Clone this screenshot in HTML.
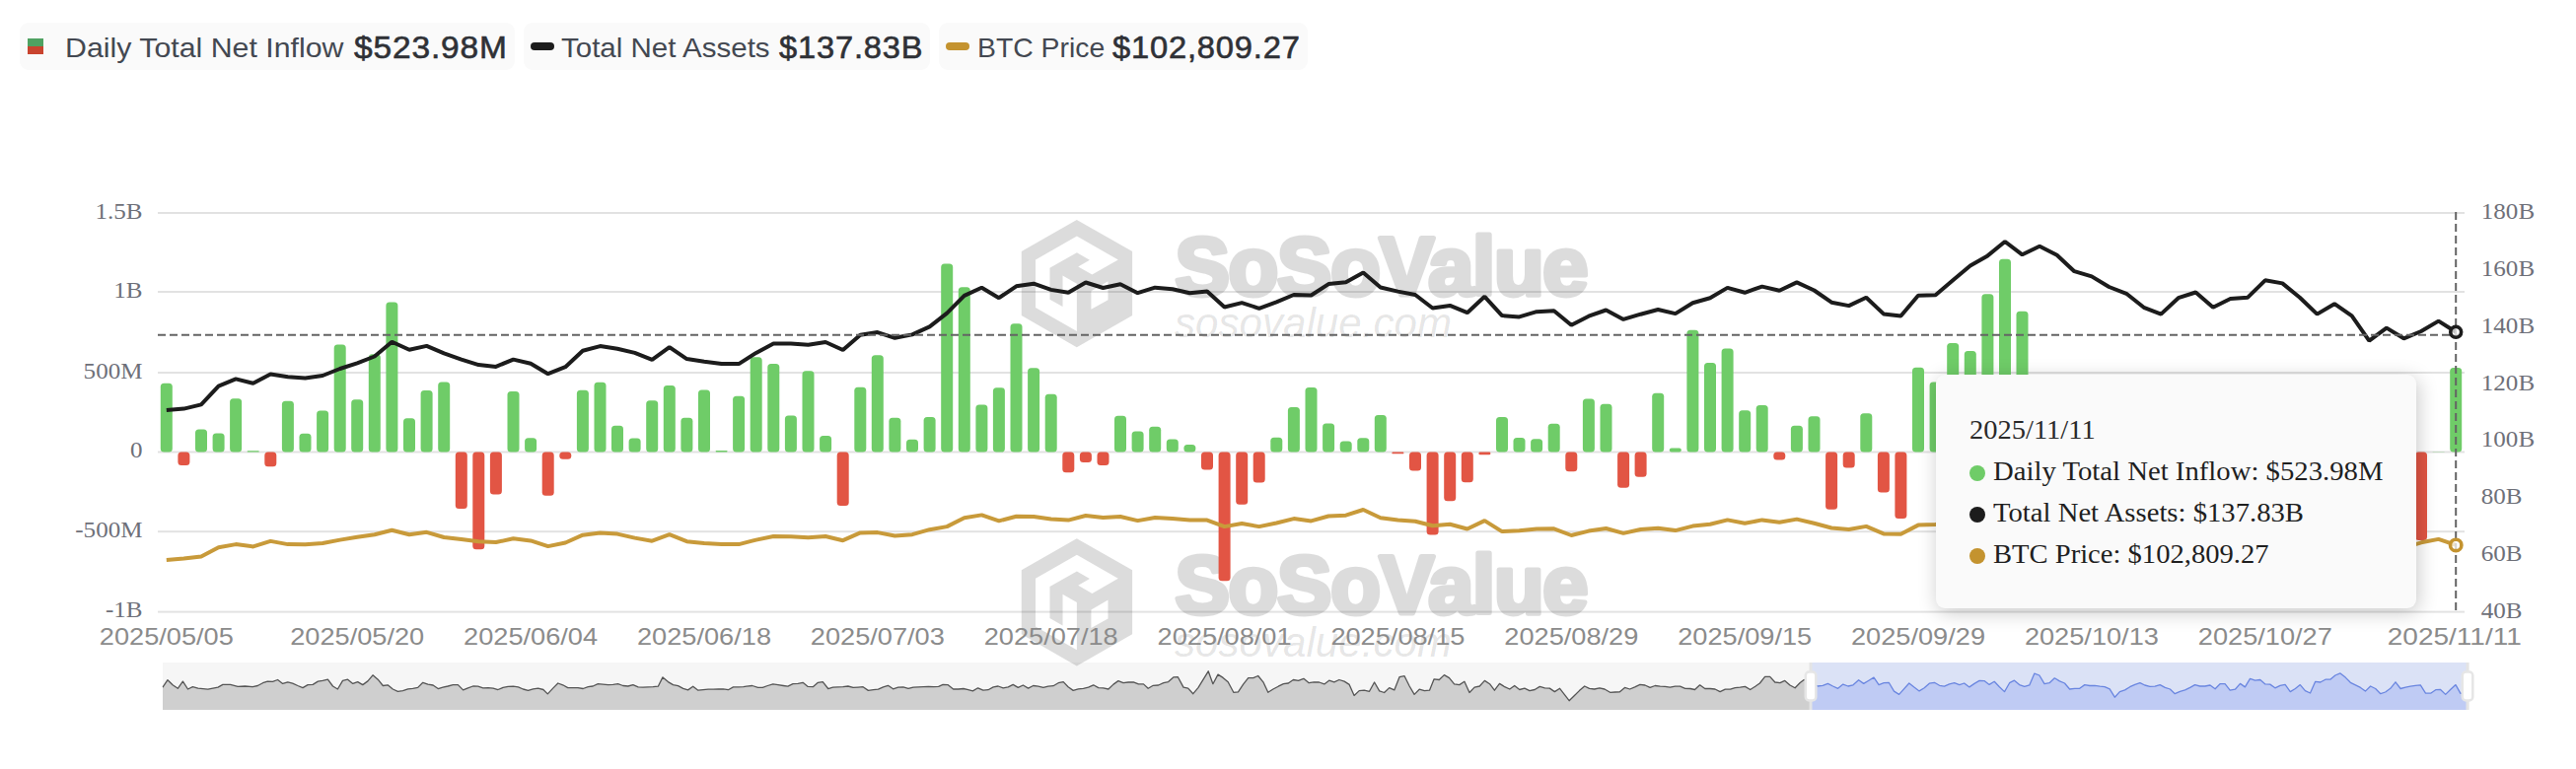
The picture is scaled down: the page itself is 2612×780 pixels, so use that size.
<!DOCTYPE html>
<html><head><meta charset="utf-8"><title>BTC Spot ETF Net Inflow</title>
<style>
html,body{margin:0;padding:0;background:#fff;}
body{width:2612px;height:780px;position:relative;overflow:hidden;font-family:"Liberation Sans",sans-serif;}
.pill{position:absolute;top:23px;height:48px;background:#fafafa;border-radius:9px;}
.pill span{position:absolute;top:0;line-height:48px;white-space:nowrap;transform-origin:0 50%;}
.lbl{font-size:28px;color:#434851;}
.val{font-size:32px;font-weight:normal;color:#2f3136;-webkit-text-stroke:0.6px #2f3136;letter-spacing:0.8px;}
svg{position:absolute;left:0;top:0;}
.tip{position:absolute;left:1963px;top:380px;width:487px;height:236.5px;background:#fafafa;border-radius:9px;
 box-shadow:2px 4px 20px rgba(0,0,0,0.22);font-family:"Liberation Serif",serif;font-size:28px;color:#1f1f1f;}
.tip div{position:absolute;left:34px;height:42px;line-height:42px;white-space:nowrap;}
.tip b{display:inline-block;font-weight:normal;transform-origin:0 50%;}
.tip i{display:inline-block;width:16px;height:16px;border-radius:50%;margin-right:8px;vertical-align:-1px;}
</style></head><body>

<div class="pill" style="left:20px;width:502px;">
<div style="position:absolute;left:8px;top:16px;width:16px;height:8px;background:#4fa262;"></div>
<div style="position:absolute;left:8px;top:24px;width:16px;height:8px;background:#c9442f;"></div>
<span class="lbl" id="l1" style="left:46.3px;top:1.5px;transform:scaleX(1.0825);">Daily Total Net Inflow</span><span class="val" id="v1" style="left:338.6px;top:0.5px;transform:scaleX(1.047);">$523.98M</span></div>
<div class="pill" style="left:530.5px;width:412px;">
<div style="position:absolute;left:7px;top:20px;width:24px;height:8px;border-radius:4px;background:#1c1c1c;"></div>
<span class="lbl" id="l2" style="left:38.7px;top:1.5px;transform:scaleX(1.054);">Total Net Assets</span><span class="val" id="v2" style="left:259.8px;top:0.5px;transform:scaleX(1.02);">$137.83B</span></div>
<div class="pill" style="left:951.5px;width:374px;">
<div style="position:absolute;left:7.5px;top:20px;width:24px;height:8px;border-radius:4px;background:#c4932f;"></div>
<span class="lbl" id="l3" style="left:39.5px;top:1.5px;transform:scaleX(1.0126);">BTC Price</span><span class="val" id="v3" style="left:176.4px;top:0.5px;transform:scaleX(1.021);">$102,809.27</span></div>

<svg width="2612" height="780" viewBox="0 0 2612 780">
<rect x="165" y="672" width="2338.5" height="48" fill="#f6f6f6"/>
<g opacity="0.135"><path fill-rule="evenodd" fill="#000" d="M1091.8 223.0 L1148.1 255.0 L1148.1 320.0 L1091.8 352.2 L1035.8 320.0 L1035.8 255.0 Z M1050.0 263.5 L1091.9 239.5 L1133.8 263.5 L1107.4 278.6 L1093.2 270.4 L1104.9 263.7 L1091.9 256.3 L1064.5 271.8 L1064.5 303.7 L1077.5 311.1 L1077.5 279.4 L1091.9 287.8 L1091.9 335.9 L1050.0 312.1 Z M1106.4 295.3 L1123.5 285.3 L1123.5 304.2 L1106.4 313.8 Z"/><text x="1191.5" y="298.7" font-family="Liberation Sans, sans-serif" font-weight="bold" font-size="83" fill="#000" stroke="#000" stroke-width="5" stroke-linejoin="round" textLength="419" lengthAdjust="spacing">SoSoValue</text></g><text x="1191" y="342.3" font-family="Liberation Sans, sans-serif" font-style="italic" font-size="43" fill="#000" fill-opacity="0.115" textLength="281" lengthAdjust="spacingAndGlyphs">sosovalue.com</text>
<g opacity="0.135"><path fill-rule="evenodd" fill="#000" d="M1091.8 546.3 L1148.1 578.3 L1148.1 643.3 L1091.8 675.5 L1035.8 643.3 L1035.8 578.3 Z M1050.0 586.8 L1091.9 562.8 L1133.8 586.8 L1107.4 601.9 L1093.2 593.7 L1104.9 587.0 L1091.9 579.6 L1064.5 595.1 L1064.5 627.0 L1077.5 634.4 L1077.5 602.7 L1091.9 611.1 L1091.9 659.2 L1050.0 635.4 Z M1106.4 618.6 L1123.5 608.6 L1123.5 627.5 L1106.4 637.1 Z"/><text x="1191.5" y="622.0" font-family="Liberation Sans, sans-serif" font-weight="bold" font-size="83" fill="#000" stroke="#000" stroke-width="5" stroke-linejoin="round" textLength="419" lengthAdjust="spacing">SoSoValue</text></g><text x="1191" y="665.6" font-family="Liberation Sans, sans-serif" font-style="italic" font-size="43" fill="#000" fill-opacity="0.115" textLength="281" lengthAdjust="spacingAndGlyphs">sosovalue.com</text>
<rect x="160" y="215.0" width="2339" height="2" fill="#000" fill-opacity="0.115"/>
<rect x="160" y="295.0" width="2339" height="2" fill="#000" fill-opacity="0.115"/>
<rect x="160" y="377.0" width="2339" height="2" fill="#000" fill-opacity="0.115"/>
<rect x="160" y="457.5" width="2339" height="2" fill="#000" fill-opacity="0.115"/>
<rect x="160" y="538.2" width="2339" height="2" fill="#000" fill-opacity="0.115"/>
<rect x="160" y="619.6" width="2339" height="2" fill="#000" fill-opacity="0.115"/>
<rect x="162.8" y="388.8" width="12.0" height="69.7" rx="3.5" fill="#6fcc68"/>
<rect x="180.4" y="458.5" width="12.0" height="13.5" rx="3.5" fill="#e25544"/>
<rect x="198.0" y="435.4" width="12.0" height="23.1" rx="3.5" fill="#6fcc68"/>
<rect x="215.6" y="439.5" width="12.0" height="19.0" rx="3.5" fill="#6fcc68"/>
<rect x="233.1" y="404.2" width="12.0" height="54.3" rx="3.5" fill="#6fcc68"/>
<rect x="250.7" y="457.3" width="12.0" height="1.2" rx="0.6" fill="#6fcc68"/>
<rect x="268.3" y="458.5" width="12.0" height="14.8" rx="3.5" fill="#e25544"/>
<rect x="285.9" y="406.8" width="12.0" height="51.7" rx="3.5" fill="#6fcc68"/>
<rect x="303.5" y="439.8" width="12.0" height="18.7" rx="3.5" fill="#6fcc68"/>
<rect x="321.1" y="416.4" width="12.0" height="42.1" rx="3.5" fill="#6fcc68"/>
<rect x="338.7" y="349.6" width="12.0" height="108.9" rx="3.5" fill="#6fcc68"/>
<rect x="356.2" y="405.2" width="12.0" height="53.3" rx="3.5" fill="#6fcc68"/>
<rect x="373.8" y="359.2" width="12.0" height="99.3" rx="3.5" fill="#6fcc68"/>
<rect x="391.4" y="306.4" width="12.0" height="152.1" rx="3.5" fill="#6fcc68"/>
<rect x="409.0" y="424.2" width="12.0" height="34.3" rx="3.5" fill="#6fcc68"/>
<rect x="426.6" y="396.1" width="12.0" height="62.4" rx="3.5" fill="#6fcc68"/>
<rect x="444.2" y="387.5" width="12.0" height="71.0" rx="3.5" fill="#6fcc68"/>
<rect x="461.8" y="458.5" width="12.0" height="57.5" rx="3.5" fill="#e25544"/>
<rect x="479.3" y="458.5" width="12.0" height="98.8" rx="3.5" fill="#e25544"/>
<rect x="496.9" y="458.5" width="12.0" height="42.9" rx="3.5" fill="#e25544"/>
<rect x="514.5" y="397.1" width="12.0" height="61.4" rx="3.5" fill="#6fcc68"/>
<rect x="532.1" y="444.2" width="12.0" height="14.3" rx="3.5" fill="#6fcc68"/>
<rect x="549.7" y="458.5" width="12.0" height="44.2" rx="3.5" fill="#e25544"/>
<rect x="567.3" y="458.5" width="12.0" height="7.3" rx="3.5" fill="#e25544"/>
<rect x="584.9" y="395.8" width="12.0" height="62.7" rx="3.5" fill="#6fcc68"/>
<rect x="602.5" y="387.8" width="12.0" height="70.7" rx="3.5" fill="#6fcc68"/>
<rect x="620.0" y="431.7" width="12.0" height="26.8" rx="3.5" fill="#6fcc68"/>
<rect x="637.6" y="444.5" width="12.0" height="14.0" rx="3.5" fill="#6fcc68"/>
<rect x="655.2" y="406.2" width="12.0" height="52.3" rx="3.5" fill="#6fcc68"/>
<rect x="672.8" y="390.9" width="12.0" height="67.6" rx="3.5" fill="#6fcc68"/>
<rect x="690.4" y="423.7" width="12.0" height="34.8" rx="3.5" fill="#6fcc68"/>
<rect x="708.0" y="395.6" width="12.0" height="62.9" rx="3.5" fill="#6fcc68"/>
<rect x="725.6" y="457.0" width="12.0" height="1.5" rx="0.8" fill="#6fcc68"/>
<rect x="743.1" y="401.8" width="12.0" height="56.7" rx="3.5" fill="#6fcc68"/>
<rect x="760.7" y="362.3" width="12.0" height="96.2" rx="3.5" fill="#6fcc68"/>
<rect x="778.3" y="369.1" width="12.0" height="89.4" rx="3.5" fill="#6fcc68"/>
<rect x="795.9" y="421.6" width="12.0" height="36.9" rx="3.5" fill="#6fcc68"/>
<rect x="813.5" y="376.3" width="12.0" height="82.2" rx="3.5" fill="#6fcc68"/>
<rect x="831.1" y="441.9" width="12.0" height="16.6" rx="3.5" fill="#6fcc68"/>
<rect x="848.7" y="458.5" width="12.0" height="54.6" rx="3.5" fill="#e25544"/>
<rect x="866.3" y="392.7" width="12.0" height="65.8" rx="3.5" fill="#6fcc68"/>
<rect x="883.8" y="360.2" width="12.0" height="98.3" rx="3.5" fill="#6fcc68"/>
<rect x="901.4" y="423.7" width="12.0" height="34.8" rx="3.5" fill="#6fcc68"/>
<rect x="919.0" y="445.8" width="12.0" height="12.7" rx="3.5" fill="#6fcc68"/>
<rect x="936.6" y="423.1" width="12.0" height="35.4" rx="3.5" fill="#6fcc68"/>
<rect x="954.2" y="267.5" width="12.0" height="191.0" rx="3.5" fill="#6fcc68"/>
<rect x="971.8" y="291.3" width="12.0" height="167.2" rx="3.5" fill="#6fcc68"/>
<rect x="989.4" y="410.4" width="12.0" height="48.1" rx="3.5" fill="#6fcc68"/>
<rect x="1006.9" y="393.2" width="12.0" height="65.3" rx="3.5" fill="#6fcc68"/>
<rect x="1024.5" y="328.2" width="12.0" height="130.3" rx="3.5" fill="#6fcc68"/>
<rect x="1042.1" y="373.2" width="12.0" height="85.3" rx="3.5" fill="#6fcc68"/>
<rect x="1059.7" y="399.7" width="12.0" height="58.8" rx="3.5" fill="#6fcc68"/>
<rect x="1077.3" y="458.5" width="12.0" height="20.8" rx="3.5" fill="#e25544"/>
<rect x="1094.9" y="458.5" width="12.0" height="10.6" rx="3.5" fill="#e25544"/>
<rect x="1112.5" y="458.5" width="12.0" height="13.5" rx="3.5" fill="#e25544"/>
<rect x="1130.0" y="421.8" width="12.0" height="36.7" rx="3.5" fill="#6fcc68"/>
<rect x="1147.6" y="437.4" width="12.0" height="21.1" rx="3.5" fill="#6fcc68"/>
<rect x="1165.2" y="432.8" width="12.0" height="25.7" rx="3.5" fill="#6fcc68"/>
<rect x="1182.8" y="445.5" width="12.0" height="13.0" rx="3.5" fill="#6fcc68"/>
<rect x="1200.4" y="451.0" width="12.0" height="7.5" rx="3.5" fill="#6fcc68"/>
<rect x="1218.0" y="458.5" width="12.0" height="17.9" rx="3.5" fill="#e25544"/>
<rect x="1235.6" y="458.5" width="12.0" height="130.8" rx="3.5" fill="#e25544"/>
<rect x="1253.2" y="458.5" width="12.0" height="53.3" rx="3.5" fill="#e25544"/>
<rect x="1270.7" y="458.5" width="12.0" height="30.9" rx="3.5" fill="#e25544"/>
<rect x="1288.3" y="443.7" width="12.0" height="14.8" rx="3.5" fill="#6fcc68"/>
<rect x="1305.9" y="413.0" width="12.0" height="45.5" rx="3.5" fill="#6fcc68"/>
<rect x="1323.5" y="393.0" width="12.0" height="65.5" rx="3.5" fill="#6fcc68"/>
<rect x="1341.1" y="429.6" width="12.0" height="28.9" rx="3.5" fill="#6fcc68"/>
<rect x="1358.7" y="447.6" width="12.0" height="10.9" rx="3.5" fill="#6fcc68"/>
<rect x="1376.3" y="444.2" width="12.0" height="14.3" rx="3.5" fill="#6fcc68"/>
<rect x="1393.8" y="421.1" width="12.0" height="37.4" rx="3.5" fill="#6fcc68"/>
<rect x="1411.4" y="458.5" width="12.0" height="1.8" rx="0.9" fill="#e25544"/>
<rect x="1429.0" y="458.5" width="12.0" height="19.0" rx="3.5" fill="#e25544"/>
<rect x="1446.6" y="458.5" width="12.0" height="84.0" rx="3.5" fill="#e25544"/>
<rect x="1464.2" y="458.5" width="12.0" height="49.7" rx="3.5" fill="#e25544"/>
<rect x="1481.8" y="458.5" width="12.0" height="30.7" rx="3.5" fill="#e25544"/>
<rect x="1499.4" y="458.5" width="12.0" height="2.8" rx="1.4" fill="#e25544"/>
<rect x="1517.0" y="422.9" width="12.0" height="35.6" rx="3.5" fill="#6fcc68"/>
<rect x="1534.5" y="443.9" width="12.0" height="14.6" rx="3.5" fill="#6fcc68"/>
<rect x="1552.1" y="445.2" width="12.0" height="13.3" rx="3.5" fill="#6fcc68"/>
<rect x="1569.7" y="429.7" width="12.0" height="28.8" rx="3.5" fill="#6fcc68"/>
<rect x="1587.3" y="458.5" width="12.0" height="19.8" rx="3.5" fill="#e25544"/>
<rect x="1604.9" y="404.5" width="12.0" height="54.0" rx="3.5" fill="#6fcc68"/>
<rect x="1622.5" y="409.7" width="12.0" height="48.8" rx="3.5" fill="#6fcc68"/>
<rect x="1640.1" y="458.5" width="12.0" height="36.2" rx="3.5" fill="#e25544"/>
<rect x="1657.6" y="458.5" width="12.0" height="25.3" rx="3.5" fill="#e25544"/>
<rect x="1675.2" y="398.8" width="12.0" height="59.7" rx="3.5" fill="#6fcc68"/>
<rect x="1692.8" y="454.4" width="12.0" height="4.1" rx="2.0" fill="#6fcc68"/>
<rect x="1710.4" y="334.8" width="12.0" height="123.7" rx="3.5" fill="#6fcc68"/>
<rect x="1728.0" y="367.9" width="12.0" height="90.6" rx="3.5" fill="#6fcc68"/>
<rect x="1745.6" y="353.6" width="12.0" height="104.9" rx="3.5" fill="#6fcc68"/>
<rect x="1763.2" y="416.2" width="12.0" height="42.3" rx="3.5" fill="#6fcc68"/>
<rect x="1780.7" y="411.0" width="12.0" height="47.5" rx="3.5" fill="#6fcc68"/>
<rect x="1798.3" y="458.5" width="12.0" height="7.9" rx="3.5" fill="#e25544"/>
<rect x="1815.9" y="431.8" width="12.0" height="26.7" rx="3.5" fill="#6fcc68"/>
<rect x="1833.5" y="422.3" width="12.0" height="36.2" rx="3.5" fill="#6fcc68"/>
<rect x="1851.1" y="458.5" width="12.0" height="58.3" rx="3.5" fill="#e25544"/>
<rect x="1868.7" y="458.5" width="12.0" height="15.9" rx="3.5" fill="#e25544"/>
<rect x="1886.3" y="419.3" width="12.0" height="39.2" rx="3.5" fill="#6fcc68"/>
<rect x="1903.9" y="458.5" width="12.0" height="40.9" rx="3.5" fill="#e25544"/>
<rect x="1921.4" y="458.5" width="12.0" height="67.4" rx="3.5" fill="#e25544"/>
<rect x="1939.0" y="372.8" width="12.0" height="85.7" rx="3.5" fill="#6fcc68"/>
<rect x="1956.6" y="387.6" width="12.0" height="70.9" rx="3.5" fill="#6fcc68"/>
<rect x="1974.2" y="348.1" width="12.0" height="110.4" rx="3.5" fill="#6fcc68"/>
<rect x="1991.8" y="355.9" width="12.0" height="102.6" rx="3.5" fill="#6fcc68"/>
<rect x="2009.4" y="298.2" width="12.0" height="160.3" rx="3.5" fill="#6fcc68"/>
<rect x="2027.0" y="262.7" width="12.0" height="195.8" rx="3.5" fill="#6fcc68"/>
<rect x="2044.5" y="315.8" width="12.0" height="142.7" rx="3.5" fill="#6fcc68"/>
<rect x="2062.1" y="387.1" width="12.0" height="71.4" rx="3.5" fill="#6fcc68"/>
<rect x="2079.7" y="426.5" width="12.0" height="32.0" rx="3.5" fill="#6fcc68"/>
<rect x="2097.3" y="458.5" width="12.0" height="0.8" rx="0.4" fill="#e25544"/>
<rect x="2114.9" y="458.5" width="12.0" height="53.0" rx="3.5" fill="#e25544"/>
<rect x="2132.5" y="441.8" width="12.0" height="16.7" rx="3.5" fill="#6fcc68"/>
<rect x="2150.1" y="458.5" width="12.0" height="16.8" rx="3.5" fill="#e25544"/>
<rect x="2167.7" y="458.5" width="12.0" height="86.0" rx="3.5" fill="#e25544"/>
<rect x="2185.2" y="458.5" width="12.0" height="59.4" rx="3.5" fill="#e25544"/>
<rect x="2202.8" y="458.5" width="12.0" height="6.5" rx="3.2" fill="#e25544"/>
<rect x="2220.4" y="381.2" width="12.0" height="77.3" rx="3.5" fill="#6fcc68"/>
<rect x="2238.0" y="458.5" width="12.0" height="16.4" rx="3.5" fill="#e25544"/>
<rect x="2255.6" y="455.3" width="12.0" height="3.2" rx="1.6" fill="#6fcc68"/>
<rect x="2273.2" y="443.9" width="12.0" height="14.6" rx="3.5" fill="#6fcc68"/>
<rect x="2290.8" y="434.4" width="12.0" height="24.1" rx="3.5" fill="#6fcc68"/>
<rect x="2308.3" y="425.8" width="12.0" height="32.7" rx="3.5" fill="#6fcc68"/>
<rect x="2325.9" y="458.5" width="12.0" height="76.3" rx="3.5" fill="#e25544"/>
<rect x="2343.5" y="458.5" width="12.0" height="79.0" rx="3.5" fill="#e25544"/>
<rect x="2361.1" y="458.5" width="12.0" height="31.0" rx="3.5" fill="#e25544"/>
<rect x="2378.7" y="458.5" width="12.0" height="30.3" rx="3.5" fill="#e25544"/>
<rect x="2396.3" y="458.5" width="12.0" height="91.7" rx="3.5" fill="#e25544"/>
<rect x="2413.9" y="458.5" width="12.0" height="22.2" rx="3.5" fill="#e25544"/>
<rect x="2431.4" y="419.6" width="12.0" height="38.9" rx="3.5" fill="#6fcc68"/>
<rect x="2449.0" y="458.5" width="12.0" height="89.6" rx="3.5" fill="#e25544"/>
<rect x="2466.6" y="458.2" width="12.0" height="0.3" rx="0.1" fill="#6fcc68"/>
<rect x="2484.2" y="373.0" width="12.0" height="85.5" rx="3.5" fill="#6fcc68"/>
<polyline points="168.8,416.1 186.4,414.6 204.0,410.4 221.6,391.7 239.1,384.4 256.7,388.8 274.3,379.5 291.9,382.3 309.5,383.6 327.1,381.0 344.7,374.0 362.2,368.3 379.8,361.5 397.4,346.7 415.0,354.8 432.6,350.9 450.2,358.4 467.8,364.6 485.3,370.1 502.9,371.9 520.5,364.6 538.1,368.8 555.7,379.2 573.3,372.2 590.9,355.8 608.5,351.1 626.0,353.7 643.6,357.9 661.2,364.9 678.8,352.2 696.4,364.1 714.0,366.7 731.6,369.1 749.1,369.1 766.7,357.9 784.3,348.5 801.9,348.5 819.5,349.8 837.1,347.0 854.7,355.0 872.3,339.7 889.8,337.1 907.4,342.8 925.0,339.4 942.6,331.4 960.2,317.6 977.8,299.9 995.4,291.8 1012.9,302.2 1030.5,290.3 1048.1,287.7 1065.7,293.9 1083.3,296.8 1100.9,286.5 1118.5,292.0 1136.0,288.3 1153.6,297.2 1171.2,291.7 1188.8,293.3 1206.4,297.2 1224.0,295.4 1241.6,311.5 1259.2,307.1 1276.7,312.8 1294.3,306.3 1311.9,299.0 1329.5,299.5 1347.1,288.1 1364.7,286.3 1382.3,276.6 1399.8,291.5 1417.4,295.6 1435.0,299.0 1452.6,312.5 1470.2,309.9 1487.8,317.2 1505.4,300.8 1523.0,320.1 1540.5,321.4 1558.1,316.2 1575.7,315.2 1593.3,329.8 1610.9,320.7 1628.5,314.5 1646.1,323.9 1663.6,318.7 1681.2,314.0 1698.8,318.1 1716.4,307.2 1734.0,302.3 1751.6,291.9 1769.2,296.8 1786.7,290.6 1804.3,294.7 1821.9,286.4 1839.5,294.5 1857.1,306.7 1874.7,310.1 1892.3,301.8 1909.9,318.4 1927.4,320.5 1945.0,299.7 1962.6,299.2 1980.2,284.3 1997.8,269.5 2015.4,259.4 2033.0,245.0 2050.5,258.3 2068.1,249.7 2085.7,258.8 2103.3,275.2 2120.9,280.4 2138.5,291.0 2156.1,297.8 2173.7,311.8 2191.2,318.6 2208.8,302.2 2226.4,296.5 2244.0,311.8 2261.6,303.0 2279.2,301.7 2296.8,284.3 2314.3,287.4 2331.9,301.7 2349.5,318.6 2367.1,308.2 2384.7,320.4 2402.3,345.6 2419.9,332.6 2437.4,343.3 2455.0,336.0 2472.6,325.6 2490.2,336.8" fill="none" stroke="#1c1c1c" stroke-width="4.0" stroke-linejoin="bevel" stroke-linecap="butt"/>
<polyline points="168.8,567.9 186.4,566.6 204.0,564.5 221.6,555.2 239.1,552.1 256.7,554.4 274.3,548.9 291.9,552.1 309.5,552.3 327.1,551.0 344.7,547.6 362.2,544.8 379.8,542.2 397.4,537.8 415.0,542.2 432.6,539.8 450.2,545.0 467.8,547.1 485.3,549.2 502.9,550.0 520.5,546.3 538.1,548.4 555.7,554.1 573.3,550.5 590.9,542.7 608.5,540.4 626.0,541.6 643.6,545.6 661.2,548.7 678.8,542.2 696.4,549.2 714.0,551.0 731.6,552.1 749.1,552.1 766.7,547.6 784.3,544.0 801.9,544.3 819.5,545.3 837.1,544.0 854.7,548.2 872.3,540.4 889.8,540.1 907.4,543.5 925.0,542.2 942.6,537.2 960.2,534.1 977.8,525.3 995.4,522.4 1012.9,528.4 1030.5,523.7 1048.1,524.0 1065.7,526.6 1083.3,527.6 1100.9,523.0 1118.5,525.0 1136.0,524.0 1153.6,528.1 1171.2,525.0 1188.8,526.1 1206.4,527.4 1224.0,527.6 1241.6,534.1 1259.2,531.0 1276.7,534.1 1294.3,530.5 1311.9,526.1 1329.5,528.4 1347.1,523.5 1364.7,522.7 1382.3,517.0 1399.8,525.3 1417.4,527.4 1435.0,528.7 1452.6,533.3 1470.2,531.8 1487.8,536.5 1505.4,528.1 1523.0,539.1 1540.5,538.3 1558.1,536.5 1575.7,536.3 1593.3,543.0 1610.9,538.6 1628.5,536.0 1646.1,540.9 1663.6,537.0 1681.2,535.7 1698.8,538.1 1716.4,533.6 1734.0,531.8 1751.6,527.4 1769.2,530.8 1786.7,527.4 1804.3,529.7 1821.9,526.6 1839.5,530.8 1857.1,535.5 1874.7,537.0 1892.3,533.9 1909.9,541.4 1927.4,541.7 1945.0,532.6 1962.6,532.1 1980.2,525.0 1997.8,521.6 2015.4,518.6 2033.0,514.1 2050.5,520.0 2068.1,516.6 2085.7,519.5 2103.3,534.9 2120.9,531.0 2138.5,534.7 2156.1,538.8 2173.7,543.4 2191.2,546.5 2208.8,539.1 2226.4,542.8 2244.0,544.2 2261.6,540.0 2279.2,538.4 2296.8,532.9 2314.3,535.0 2331.9,540.2 2349.5,543.2 2367.1,540.9 2384.7,546.4 2402.3,555.2 2419.9,551.0 2437.4,555.6 2455.0,550.3 2472.6,546.9 2490.2,552.9" fill="none" stroke="#c89a3a" stroke-width="4.0" stroke-linejoin="bevel" stroke-linecap="butt"/>
<line x1="160" y1="339.7" x2="2499" y2="339.7" stroke="#646464" stroke-width="2" stroke-dasharray="8 4"/>
<line x1="2490.2" y1="215" x2="2490.2" y2="621" stroke="#646464" stroke-width="2" stroke-dasharray="8 4"/>
<circle cx="2490.2" cy="336.8" r="5.45" fill="#fff" fill-opacity="0.72" stroke="#1c1c1c" stroke-width="3.6"/>
<circle cx="2490.2" cy="552.9" r="5.7" fill="#fff" fill-opacity="0.72" stroke="#c4932f" stroke-width="3.6"/>
<text transform="translate(144.5,221.8) scale(1.045,1)" text-anchor="end" font-family="Liberation Serif, serif" font-size="24" fill="#6e7079">1.5B</text>
<text transform="translate(144.5,301.8) scale(1.045,1)" text-anchor="end" font-family="Liberation Serif, serif" font-size="24" fill="#6e7079">1B</text>
<text transform="translate(144.5,383.8) scale(1.045,1)" text-anchor="end" font-family="Liberation Serif, serif" font-size="24" fill="#6e7079">500M</text>
<text transform="translate(144.5,464.3) scale(1.045,1)" text-anchor="end" font-family="Liberation Serif, serif" font-size="24" fill="#6e7079">0</text>
<text transform="translate(144.5,545.0) scale(1.045,1)" text-anchor="end" font-family="Liberation Serif, serif" font-size="24" fill="#6e7079">-500M</text>
<text transform="translate(144.5,626.4) scale(1.045,1)" text-anchor="end" font-family="Liberation Serif, serif" font-size="24" fill="#6e7079">-1B</text>
<text transform="translate(2515.8,222.3) scale(1.045,1)" font-family="Liberation Serif, serif" font-size="24" fill="#6e7079">180B</text>
<text transform="translate(2515.8,280.0) scale(1.045,1)" font-family="Liberation Serif, serif" font-size="24" fill="#6e7079">160B</text>
<text transform="translate(2515.8,337.8) scale(1.045,1)" font-family="Liberation Serif, serif" font-size="24" fill="#6e7079">140B</text>
<text transform="translate(2515.8,395.5) scale(1.045,1)" font-family="Liberation Serif, serif" font-size="24" fill="#6e7079">120B</text>
<text transform="translate(2515.8,453.3) scale(1.045,1)" font-family="Liberation Serif, serif" font-size="24" fill="#6e7079">100B</text>
<text transform="translate(2515.8,511.0) scale(1.045,1)" font-family="Liberation Serif, serif" font-size="24" fill="#6e7079">80B</text>
<text transform="translate(2515.8,568.7) scale(1.045,1)" font-family="Liberation Serif, serif" font-size="24" fill="#6e7079">60B</text>
<text transform="translate(2515.8,626.5) scale(1.045,1)" font-family="Liberation Serif, serif" font-size="24" fill="#6e7079">40B</text>
<text x="100.8" y="654.3" font-family="Liberation Sans, sans-serif" font-size="24" fill="#8b8b8b" textLength="136" lengthAdjust="spacingAndGlyphs">2025/05/05</text>
<text x="294.2" y="654.3" font-family="Liberation Sans, sans-serif" font-size="24" fill="#8b8b8b" textLength="136" lengthAdjust="spacingAndGlyphs">2025/05/20</text>
<text x="470.1" y="654.3" font-family="Liberation Sans, sans-serif" font-size="24" fill="#8b8b8b" textLength="136" lengthAdjust="spacingAndGlyphs">2025/06/04</text>
<text x="646.0" y="654.3" font-family="Liberation Sans, sans-serif" font-size="24" fill="#8b8b8b" textLength="136" lengthAdjust="spacingAndGlyphs">2025/06/18</text>
<text x="821.8" y="654.3" font-family="Liberation Sans, sans-serif" font-size="24" fill="#8b8b8b" textLength="136" lengthAdjust="spacingAndGlyphs">2025/07/03</text>
<text x="997.7" y="654.3" font-family="Liberation Sans, sans-serif" font-size="24" fill="#8b8b8b" textLength="136" lengthAdjust="spacingAndGlyphs">2025/07/18</text>
<text x="1173.6" y="654.3" font-family="Liberation Sans, sans-serif" font-size="24" fill="#8b8b8b" textLength="136" lengthAdjust="spacingAndGlyphs">2025/08/01</text>
<text x="1349.4" y="654.3" font-family="Liberation Sans, sans-serif" font-size="24" fill="#8b8b8b" textLength="136" lengthAdjust="spacingAndGlyphs">2025/08/15</text>
<text x="1525.3" y="654.3" font-family="Liberation Sans, sans-serif" font-size="24" fill="#8b8b8b" textLength="136" lengthAdjust="spacingAndGlyphs">2025/08/29</text>
<text x="1701.2" y="654.3" font-family="Liberation Sans, sans-serif" font-size="24" fill="#8b8b8b" textLength="136" lengthAdjust="spacingAndGlyphs">2025/09/15</text>
<text x="1877.0" y="654.3" font-family="Liberation Sans, sans-serif" font-size="24" fill="#8b8b8b" textLength="136" lengthAdjust="spacingAndGlyphs">2025/09/29</text>
<text x="2052.9" y="654.3" font-family="Liberation Sans, sans-serif" font-size="24" fill="#8b8b8b" textLength="136" lengthAdjust="spacingAndGlyphs">2025/10/13</text>
<text x="2228.8" y="654.3" font-family="Liberation Sans, sans-serif" font-size="24" fill="#8b8b8b" textLength="136" lengthAdjust="spacingAndGlyphs">2025/10/27</text>
<text x="2420.8" y="654.3" font-family="Liberation Sans, sans-serif" font-size="24" fill="#8b8b8b" textLength="136" lengthAdjust="spacingAndGlyphs">2025/11/11</text>
<path d="M165.0 720 L165.0 696.9 L165.1 696.9 L170.0 689.7 L175.1 694.8 L180.3 698.3 L185.4 691.1 L190.5 699.0 L195.4 696.7 L200.8 698.1 L210.8 699.2 L221.0 697.1 L225.9 694.4 L233.6 694.4 L241.1 696.4 L248.5 696.0 L256.2 696.7 L261.3 695.5 L266.5 692.7 L271.3 691.1 L276.5 691.3 L281.6 689.5 L286.7 693.4 L291.8 691.8 L296.7 693.2 L301.9 695.5 L307.0 697.6 L312.1 694.6 L317.2 694.4 L322.4 691.1 L327.2 690.4 L332.4 689.2 L337.5 696.0 L342.4 699.0 L347.5 690.4 L352.6 689.2 L357.8 693.4 L362.7 691.6 L367.8 694.6 L372.9 690.9 L378.0 684.8 L383.2 689.2 L388.3 695.5 L393.2 694.8 L398.3 699.0 L403.4 701.3 L408.5 700.6 L413.7 698.8 L418.6 698.3 L423.7 697.4 L428.8 692.3 L433.9 694.1 L439.1 695.0 L444.2 698.5 L449.1 697.1 L454.2 696.0 L459.3 694.6 L464.4 694.6 L469.6 699.9 L474.5 697.8 L479.6 696.0 L484.7 696.2 L489.8 697.8 L495.0 697.6 L500.1 698.1 L505.0 699.5 L510.1 697.4 L515.2 696.4 L520.4 696.2 L525.5 696.9 L530.4 699.0 L535.5 700.4 L540.6 698.8 L545.7 698.1 L550.9 699.5 L555.3 703.9 L560.7 698.1 L565.8 693.0 L570.7 694.8 L575.8 697.6 L580.9 697.6 L586.0 697.6 L591.2 698.5 L596.3 696.7 L601.2 696.0 L606.3 693.7 L611.4 694.1 L616.6 694.6 L621.7 694.4 L626.6 693.7 L631.7 695.5 L636.8 696.0 L641.9 694.6 L647.1 696.9 L652.0 697.1 L657.1 696.9 L662.2 696.7 L667.3 696.2 L672.0 686.9 L677.4 691.6 L682.5 694.6 L687.6 695.7 L692.7 698.3 L697.6 699.9 L702.7 696.2 L707.9 700.2 L713.0 699.7 L718.1 699.2 L723.2 699.2 L728.4 699.0 L733.3 698.8 L738.4 699.7 L743.5 696.9 L748.6 696.9 L753.8 696.7 L757.0 696.2 L762.8 695.5 L768.6 697.4 L773.3 697.4 L778.4 695.5 L783.8 693.9 L788.9 694.6 L794.3 695.5 L798.9 696.2 L804.0 693.7 L809.2 693.4 L814.1 692.3 L819.2 696.4 L824.3 696.7 L829.4 692.3 L834.3 691.6 L839.7 698.5 L844.6 697.1 L849.7 696.9 L854.8 696.7 L859.9 696.0 L865.1 697.4 L870.0 697.1 L875.1 696.7 L880.4 700.4 L885.6 699.7 L890.5 699.2 L895.6 696.9 L900.5 695.3 L905.6 698.8 L910.7 697.1 L915.9 696.9 L921.0 698.3 L926.1 697.1 L936.3 696.7 L941.5 696.4 L946.6 696.7 L951.7 696.4 L956.1 694.4 L961.0 694.6 L966.6 699.0 L971.8 699.0 L976.9 698.5 L981.8 699.7 L986.4 700.9 L991.6 697.8 L996.9 700.2 L1002.0 699.7 L1007.2 696.9 L1012.1 696.0 L1017.2 697.8 L1022.3 696.9 L1027.2 694.4 L1032.3 697.4 L1037.4 695.0 L1042.6 698.1 L1047.7 695.5 L1052.8 696.2 L1057.9 697.4 L1062.8 696.2 L1068.0 695.7 L1073.1 692.7 L1078.2 691.6 L1083.1 696.7 L1088.2 700.4 L1093.3 698.8 L1098.5 698.3 L1103.6 697.1 L1108.7 694.8 L1113.8 697.6 L1118.7 697.8 L1123.9 699.0 L1129.0 694.1 L1133.9 690.6 L1139.0 692.7 L1144.1 692.0 L1149.3 691.8 L1154.4 693.9 L1159.5 693.9 L1164.2 698.3 L1169.3 695.3 L1174.6 695.0 L1179.8 692.7 L1184.7 691.6 L1189.8 686.9 L1194.4 686.7 L1200.0 697.1 L1204.7 698.1 L1209.8 703.7 L1214.9 697.6 L1225.2 680.8 L1229.9 693.7 L1235.0 684.1 L1240.1 687.4 L1245.2 691.8 L1250.8 702.3 L1255.5 701.8 L1260.6 694.1 L1265.7 687.6 L1270.8 687.6 L1275.7 685.5 L1280.9 691.8 L1285.8 702.3 L1290.9 699.0 L1296.2 696.2 L1301.4 693.7 L1306.3 693.0 L1311.4 689.5 L1316.5 690.4 L1321.9 688.3 L1327.2 692.7 L1332.3 691.8 L1337.5 692.0 L1342.8 693.9 L1347.7 690.2 L1352.8 691.8 L1357.9 689.5 L1363.1 691.1 L1368.2 694.4 L1373.1 705.5 L1378.2 700.6 L1383.3 700.2 L1388.5 701.3 L1393.6 692.0 L1398.7 700.9 L1403.6 702.5 L1408.7 697.6 L1413.8 699.9 L1419.0 686.7 L1424.1 685.7 L1429.2 696.0 L1434.1 704.4 L1439.2 699.2 L1444.4 700.6 L1449.5 700.2 L1454.1 688.8 L1459.3 689.5 L1464.4 684.6 L1469.5 687.6 L1474.6 693.9 L1479.8 694.6 L1484.9 691.3 L1490.0 702.5 L1495.1 697.1 L1500.3 696.0 L1505.4 690.4 L1510.5 693.7 L1515.4 700.2 L1520.5 693.4 L1525.7 696.7 L1530.8 699.0 L1535.7 695.5 L1540.8 699.5 L1545.9 698.1 L1551.0 700.6 L1556.2 699.5 L1561.3 696.4 L1566.4 697.8 L1571.3 698.1 L1576.4 701.6 L1581.6 698.3 L1591.1 710.7 L1596.2 705.8 L1601.4 700.6 L1606.7 696.0 L1611.6 698.3 L1616.7 699.0 L1621.9 697.8 L1627.0 699.0 L1632.6 702.3 L1637.7 702.0 L1642.4 701.8 L1647.5 697.4 L1652.6 699.0 L1657.7 696.9 L1662.9 694.4 L1668.0 695.0 L1673.1 697.4 L1678.2 695.5 L1683.3 696.2 L1688.2 696.4 L1693.4 697.1 L1698.5 696.2 L1703.6 696.2 L1708.7 698.3 L1713.9 698.5 L1718.5 699.5 L1723.6 694.8 L1728.8 698.5 L1733.9 698.5 L1739.0 699.0 L1744.1 701.6 L1749.3 699.2 L1754.4 699.2 L1759.3 697.6 L1764.4 697.1 L1769.5 696.4 L1774.7 699.5 L1779.8 696.2 L1784.4 693.0 L1789.6 686.4 L1794.7 686.4 L1799.8 692.0 L1804.9 692.7 L1809.8 690.4 L1815.0 695.0 L1820.1 697.8 L1825.2 692.5 L1829.2 689.5 L1836.0 692.4 L1836.0 720 Z" fill="#cfcfcf"/><path d="M165.0 696.9 L165.1 696.9 L170.0 689.7 L175.1 694.8 L180.3 698.3 L185.4 691.1 L190.5 699.0 L195.4 696.7 L200.8 698.1 L210.8 699.2 L221.0 697.1 L225.9 694.4 L233.6 694.4 L241.1 696.4 L248.5 696.0 L256.2 696.7 L261.3 695.5 L266.5 692.7 L271.3 691.1 L276.5 691.3 L281.6 689.5 L286.7 693.4 L291.8 691.8 L296.7 693.2 L301.9 695.5 L307.0 697.6 L312.1 694.6 L317.2 694.4 L322.4 691.1 L327.2 690.4 L332.4 689.2 L337.5 696.0 L342.4 699.0 L347.5 690.4 L352.6 689.2 L357.8 693.4 L362.7 691.6 L367.8 694.6 L372.9 690.9 L378.0 684.8 L383.2 689.2 L388.3 695.5 L393.2 694.8 L398.3 699.0 L403.4 701.3 L408.5 700.6 L413.7 698.8 L418.6 698.3 L423.7 697.4 L428.8 692.3 L433.9 694.1 L439.1 695.0 L444.2 698.5 L449.1 697.1 L454.2 696.0 L459.3 694.6 L464.4 694.6 L469.6 699.9 L474.5 697.8 L479.6 696.0 L484.7 696.2 L489.8 697.8 L495.0 697.6 L500.1 698.1 L505.0 699.5 L510.1 697.4 L515.2 696.4 L520.4 696.2 L525.5 696.9 L530.4 699.0 L535.5 700.4 L540.6 698.8 L545.7 698.1 L550.9 699.5 L555.3 703.9 L560.7 698.1 L565.8 693.0 L570.7 694.8 L575.8 697.6 L580.9 697.6 L586.0 697.6 L591.2 698.5 L596.3 696.7 L601.2 696.0 L606.3 693.7 L611.4 694.1 L616.6 694.6 L621.7 694.4 L626.6 693.7 L631.7 695.5 L636.8 696.0 L641.9 694.6 L647.1 696.9 L652.0 697.1 L657.1 696.9 L662.2 696.7 L667.3 696.2 L672.0 686.9 L677.4 691.6 L682.5 694.6 L687.6 695.7 L692.7 698.3 L697.6 699.9 L702.7 696.2 L707.9 700.2 L713.0 699.7 L718.1 699.2 L723.2 699.2 L728.4 699.0 L733.3 698.8 L738.4 699.7 L743.5 696.9 L748.6 696.9 L753.8 696.7 L757.0 696.2 L762.8 695.5 L768.6 697.4 L773.3 697.4 L778.4 695.5 L783.8 693.9 L788.9 694.6 L794.3 695.5 L798.9 696.2 L804.0 693.7 L809.2 693.4 L814.1 692.3 L819.2 696.4 L824.3 696.7 L829.4 692.3 L834.3 691.6 L839.7 698.5 L844.6 697.1 L849.7 696.9 L854.8 696.7 L859.9 696.0 L865.1 697.4 L870.0 697.1 L875.1 696.7 L880.4 700.4 L885.6 699.7 L890.5 699.2 L895.6 696.9 L900.5 695.3 L905.6 698.8 L910.7 697.1 L915.9 696.9 L921.0 698.3 L926.1 697.1 L936.3 696.7 L941.5 696.4 L946.6 696.7 L951.7 696.4 L956.1 694.4 L961.0 694.6 L966.6 699.0 L971.8 699.0 L976.9 698.5 L981.8 699.7 L986.4 700.9 L991.6 697.8 L996.9 700.2 L1002.0 699.7 L1007.2 696.9 L1012.1 696.0 L1017.2 697.8 L1022.3 696.9 L1027.2 694.4 L1032.3 697.4 L1037.4 695.0 L1042.6 698.1 L1047.7 695.5 L1052.8 696.2 L1057.9 697.4 L1062.8 696.2 L1068.0 695.7 L1073.1 692.7 L1078.2 691.6 L1083.1 696.7 L1088.2 700.4 L1093.3 698.8 L1098.5 698.3 L1103.6 697.1 L1108.7 694.8 L1113.8 697.6 L1118.7 697.8 L1123.9 699.0 L1129.0 694.1 L1133.9 690.6 L1139.0 692.7 L1144.1 692.0 L1149.3 691.8 L1154.4 693.9 L1159.5 693.9 L1164.2 698.3 L1169.3 695.3 L1174.6 695.0 L1179.8 692.7 L1184.7 691.6 L1189.8 686.9 L1194.4 686.7 L1200.0 697.1 L1204.7 698.1 L1209.8 703.7 L1214.9 697.6 L1225.2 680.8 L1229.9 693.7 L1235.0 684.1 L1240.1 687.4 L1245.2 691.8 L1250.8 702.3 L1255.5 701.8 L1260.6 694.1 L1265.7 687.6 L1270.8 687.6 L1275.7 685.5 L1280.9 691.8 L1285.8 702.3 L1290.9 699.0 L1296.2 696.2 L1301.4 693.7 L1306.3 693.0 L1311.4 689.5 L1316.5 690.4 L1321.9 688.3 L1327.2 692.7 L1332.3 691.8 L1337.5 692.0 L1342.8 693.9 L1347.7 690.2 L1352.8 691.8 L1357.9 689.5 L1363.1 691.1 L1368.2 694.4 L1373.1 705.5 L1378.2 700.6 L1383.3 700.2 L1388.5 701.3 L1393.6 692.0 L1398.7 700.9 L1403.6 702.5 L1408.7 697.6 L1413.8 699.9 L1419.0 686.7 L1424.1 685.7 L1429.2 696.0 L1434.1 704.4 L1439.2 699.2 L1444.4 700.6 L1449.5 700.2 L1454.1 688.8 L1459.3 689.5 L1464.4 684.6 L1469.5 687.6 L1474.6 693.9 L1479.8 694.6 L1484.9 691.3 L1490.0 702.5 L1495.1 697.1 L1500.3 696.0 L1505.4 690.4 L1510.5 693.7 L1515.4 700.2 L1520.5 693.4 L1525.7 696.7 L1530.8 699.0 L1535.7 695.5 L1540.8 699.5 L1545.9 698.1 L1551.0 700.6 L1556.2 699.5 L1561.3 696.4 L1566.4 697.8 L1571.3 698.1 L1576.4 701.6 L1581.6 698.3 L1591.1 710.7 L1596.2 705.8 L1601.4 700.6 L1606.7 696.0 L1611.6 698.3 L1616.7 699.0 L1621.9 697.8 L1627.0 699.0 L1632.6 702.3 L1637.7 702.0 L1642.4 701.8 L1647.5 697.4 L1652.6 699.0 L1657.7 696.9 L1662.9 694.4 L1668.0 695.0 L1673.1 697.4 L1678.2 695.5 L1683.3 696.2 L1688.2 696.4 L1693.4 697.1 L1698.5 696.2 L1703.6 696.2 L1708.7 698.3 L1713.9 698.5 L1718.5 699.5 L1723.6 694.8 L1728.8 698.5 L1733.9 698.5 L1739.0 699.0 L1744.1 701.6 L1749.3 699.2 L1754.4 699.2 L1759.3 697.6 L1764.4 697.1 L1769.5 696.4 L1774.7 699.5 L1779.8 696.2 L1784.4 693.0 L1789.6 686.4 L1794.7 686.4 L1799.8 692.0 L1804.9 692.7 L1809.8 690.4 L1815.0 695.0 L1820.1 697.8 L1825.2 692.5 L1829.2 689.5 L1836.0 692.4" fill="none" stroke="#555" stroke-width="1.3" stroke-linejoin="round"/>
<rect x="1836.0" y="672" width="666.0" height="48" fill="#dbe2f6"/>
<path d="M1836.0 720 L1836.0 692.4 L1836.2 692.5 L1843.1 696.0 L1848.3 695.3 L1853.4 693.4 L1858.5 696.0 L1863.6 698.3 L1868.8 694.1 L1873.9 696.0 L1879.0 694.8 L1884.6 689.7 L1889.7 693.4 L1894.9 690.2 L1900.0 687.1 L1905.1 694.6 L1910.2 692.7 L1915.4 692.5 L1920.5 701.1 L1925.6 704.4 L1935.8 693.0 L1940.9 697.1 L1946.1 700.9 L1951.2 697.8 L1956.3 693.2 L1961.4 692.3 L1966.6 695.3 L1971.5 696.2 L1976.6 693.9 L1981.7 692.7 L1986.8 694.6 L1991.7 693.0 L1996.9 696.9 L2002.0 693.4 L2007.1 690.4 L2012.0 690.6 L2017.1 694.4 L2022.2 691.3 L2027.4 696.7 L2032.5 701.6 L2037.6 692.7 L2042.5 690.2 L2047.6 694.6 L2052.8 696.4 L2057.9 694.8 L2062.8 683.2 L2067.9 685.0 L2073.0 693.7 L2078.1 692.7 L2083.3 687.8 L2088.4 690.9 L2093.5 693.0 L2098.6 699.0 L2103.8 698.3 L2108.7 698.3 L2113.8 694.6 L2118.9 695.5 L2124.0 695.3 L2129.2 696.2 L2134.1 696.7 L2139.2 698.8 L2144.3 707.2 L2149.4 701.6 L2154.6 699.9 L2159.7 696.7 L2164.8 694.4 L2169.9 692.7 L2174.8 695.0 L2179.9 696.4 L2185.1 696.2 L2190.2 694.6 L2195.3 697.4 L2200.4 699.0 L2205.3 703.7 L2210.5 701.3 L2215.6 699.9 L2220.7 697.4 L2225.6 694.6 L2230.7 696.0 L2235.8 696.0 L2241.0 695.0 L2246.1 698.8 L2251.0 693.7 L2256.1 693.7 L2261.2 700.2 L2266.4 699.2 L2271.5 693.4 L2276.4 696.9 L2281.5 688.3 L2286.6 690.2 L2291.8 689.5 L2296.9 693.9 L2301.8 694.1 L2306.9 697.8 L2312.0 695.3 L2317.1 694.4 L2322.3 701.6 L2327.4 698.5 L2332.3 694.6 L2337.4 700.6 L2342.5 703.0 L2347.7 691.3 L2352.8 692.0 L2357.9 689.2 L2362.8 689.2 L2367.9 685.0 L2373.0 682.9 L2378.2 687.1 L2383.3 692.3 L2388.4 694.8 L2393.5 697.4 L2398.4 701.1 L2403.6 696.0 L2408.7 698.5 L2413.8 703.7 L2418.7 702.0 L2423.8 698.3 L2429.0 691.8 L2434.1 698.5 L2439.2 697.1 L2444.1 696.2 L2449.2 695.3 L2454.3 694.8 L2459.5 703.2 L2464.6 703.2 L2469.7 699.7 L2474.6 699.5 L2479.7 704.4 L2484.9 699.2 L2490.0 694.6 L2494.9 703.4 L2500.2 702.3 L2502.0 702.3 L2502.0 720 Z" fill="#bfcbf4"/><path d="M1836.0 692.4 L1836.2 692.5 L1843.1 696.0 L1848.3 695.3 L1853.4 693.4 L1858.5 696.0 L1863.6 698.3 L1868.8 694.1 L1873.9 696.0 L1879.0 694.8 L1884.6 689.7 L1889.7 693.4 L1894.9 690.2 L1900.0 687.1 L1905.1 694.6 L1910.2 692.7 L1915.4 692.5 L1920.5 701.1 L1925.6 704.4 L1935.8 693.0 L1940.9 697.1 L1946.1 700.9 L1951.2 697.8 L1956.3 693.2 L1961.4 692.3 L1966.6 695.3 L1971.5 696.2 L1976.6 693.9 L1981.7 692.7 L1986.8 694.6 L1991.7 693.0 L1996.9 696.9 L2002.0 693.4 L2007.1 690.4 L2012.0 690.6 L2017.1 694.4 L2022.2 691.3 L2027.4 696.7 L2032.5 701.6 L2037.6 692.7 L2042.5 690.2 L2047.6 694.6 L2052.8 696.4 L2057.9 694.8 L2062.8 683.2 L2067.9 685.0 L2073.0 693.7 L2078.1 692.7 L2083.3 687.8 L2088.4 690.9 L2093.5 693.0 L2098.6 699.0 L2103.8 698.3 L2108.7 698.3 L2113.8 694.6 L2118.9 695.5 L2124.0 695.3 L2129.2 696.2 L2134.1 696.7 L2139.2 698.8 L2144.3 707.2 L2149.4 701.6 L2154.6 699.9 L2159.7 696.7 L2164.8 694.4 L2169.9 692.7 L2174.8 695.0 L2179.9 696.4 L2185.1 696.2 L2190.2 694.6 L2195.3 697.4 L2200.4 699.0 L2205.3 703.7 L2210.5 701.3 L2215.6 699.9 L2220.7 697.4 L2225.6 694.6 L2230.7 696.0 L2235.8 696.0 L2241.0 695.0 L2246.1 698.8 L2251.0 693.7 L2256.1 693.7 L2261.2 700.2 L2266.4 699.2 L2271.5 693.4 L2276.4 696.9 L2281.5 688.3 L2286.6 690.2 L2291.8 689.5 L2296.9 693.9 L2301.8 694.1 L2306.9 697.8 L2312.0 695.3 L2317.1 694.4 L2322.3 701.6 L2327.4 698.5 L2332.3 694.6 L2337.4 700.6 L2342.5 703.0 L2347.7 691.3 L2352.8 692.0 L2357.9 689.2 L2362.8 689.2 L2367.9 685.0 L2373.0 682.9 L2378.2 687.1 L2383.3 692.3 L2388.4 694.8 L2393.5 697.4 L2398.4 701.1 L2403.6 696.0 L2408.7 698.5 L2413.8 703.7 L2418.7 702.0 L2423.8 698.3 L2429.0 691.8 L2434.1 698.5 L2439.2 697.1 L2444.1 696.2 L2449.2 695.3 L2454.3 694.8 L2459.5 703.2 L2464.6 703.2 L2469.7 699.7 L2474.6 699.5 L2479.7 704.4 L2484.9 699.2 L2490.0 694.6 L2494.9 703.4 L2500.2 702.3 L2502.0 702.3" fill="none" stroke="#6a86e0" stroke-width="1.3" stroke-linejoin="round"/>
<rect x="1834.5" y="672" width="3" height="48" fill="#e4e4e4"/>
<rect x="1830.8" y="681.5" width="10.5" height="29" rx="3.5" fill="#fff" stroke="#e6e6e6" stroke-width="2.5"/>
<rect x="2500.5" y="672" width="3" height="48" fill="#e4e4e4"/>
<rect x="2496.8" y="681.5" width="10.5" height="29" rx="3.5" fill="#fff" stroke="#e6e6e6" stroke-width="2.5"/>
</svg>
<div class="tip">
<div style="top:35px;color:#2a2a2a;"><b style="transform:scaleX(1.018)">2025/11/11</b></div>
<div style="top:77px;"><i style="background:#6fcc68"></i><b style="transform:scaleX(1.0255)">Daily Total Net Inflow: $523.98M</b></div>
<div style="top:119px;"><i style="background:#1c1c1c"></i><b style="transform:scaleX(1.024)">Total Net Assets: $137.83B</b></div>
<div style="top:161px;"><i style="background:#c4932f"></i><b style="transform:scaleX(1.021)">BTC Price: $102,809.27</b></div>
</div>
</body></html>
